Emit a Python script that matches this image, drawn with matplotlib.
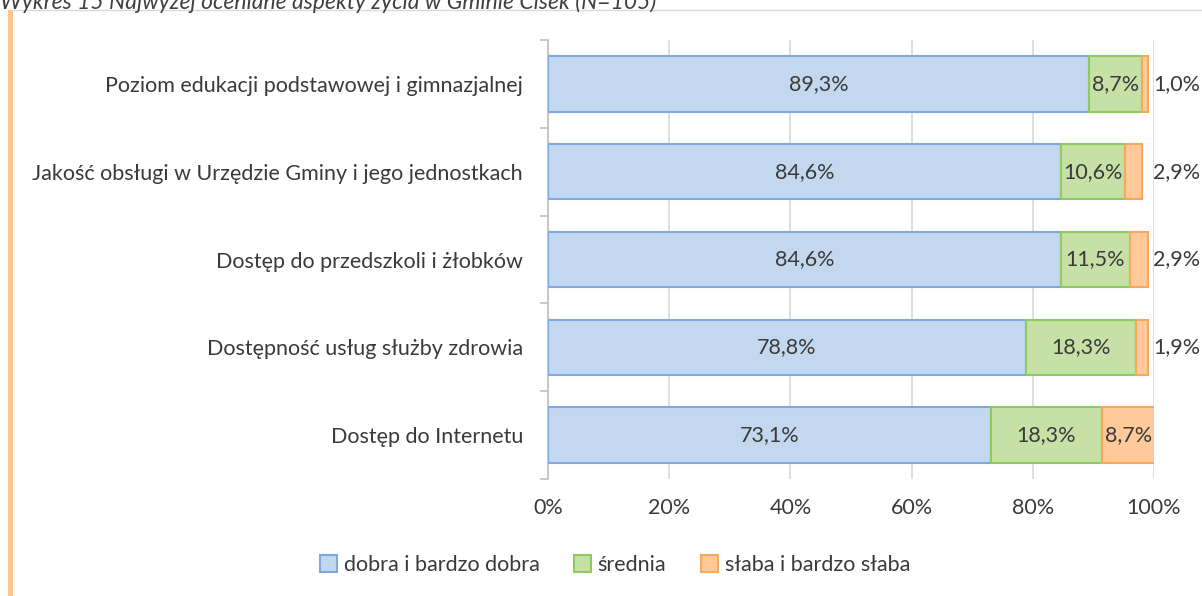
import numpy as np
import matplotlib.pyplot as plt

plt.rcParams['font.family'] = ['Lato', 'DejaVu Sans']

categories = ['Poziom edukacji podstawowej i gimnazjalnej',
              'Jakość obsługi w Urzędzie Gminy i jego jednostkach',
              'Dostęp do przedszkoli i żłobków',
              'Dostępność usług służby zdrowia',
              'Dostęp do Internetu']
dobra = [89.3, 84.6, 84.6, 78.8, 73.1]
srednia = [8.7, 10.6, 11.5, 18.3, 18.3]
slaba = [1.0, 2.9, 2.9, 1.9, 8.7]
series_names = ['dobra i bardzo dobra', 'średnia', 'słaba i bardzo słaba']
xticks = [0, 20, 40, 60, 80, 100]

fills = ['#C3D8EE', '#C6E0A6', '#FFC99A']
edges = ['#7FA7E0', '#8CCB5C', '#F8AA5C']
txt = '#3A3A3A'
fs = 15.5

fig = plt.figure(figsize=(12.02, 5.96), dpi=100)
ax = fig.add_axes([548 / 1202, 1 - 479 / 596, 606 / 1202, 439 / 596])

y = np.arange(len(categories))
left = np.zeros(len(categories))
for vals, name, fc, ec in zip([dobra, srednia, slaba], series_names, fills, edges):
    vals = np.array(vals)
    ax.barh(y, vals, left=left, height=0.63, color=fc, edgecolor=ec,
            linewidth=1.5, label=name, zorder=3)
    for yi, l, v in zip(y, left, vals):
        if v >= 5:
            ax.text(l + v / 2, yi, f'{v:.1f}%'.replace('.', ','), ha='center',
                    va='center', fontsize=fs, color=txt, zorder=4)
        else:
            ax.text(103.8, yi, f'{v:.1f}%'.replace('.', ','), ha='center',
                    va='center', fontsize=fs, color=txt, zorder=4, clip_on=False)
    left += vals

ax.set_xlim(0, 100)
ax.set_ylim(len(categories) - 0.5, -0.5)
ax.set_yticks(y)
ax.set_yticklabels(categories, fontsize=fs, color=txt)
ax.set_yticks(np.arange(-0.5, len(categories)), minor=True)
ax.tick_params(axis='y', which='major', length=0, pad=18)
ax.tick_params(axis='y', which='minor', length=6, color='#BFBFBF', width=1.2)
ax.set_xticks(xticks)
ax.set_xticklabels([f'{t}%' for t in xticks], fontsize=fs, color=txt)
ax.tick_params(axis='x', length=0, pad=14)
ax.grid(axis='x', color='#D9D9D9', linewidth=1.2, zorder=0)
for s in ['top', 'right', 'bottom']:
    ax.spines[s].set_visible(False)
ax.spines['left'].set_color('#BFBFBF')
ax.spines['left'].set_linewidth(1.2)

leg = fig.legend(loc='center', bbox_to_anchor=(615 / 1202, 1 - 565 / 596), ncol=3,
                 frameon=False, fontsize=fs, handlelength=0.8, handleheight=0.8,
                 handletextpad=0.3, columnspacing=1.6)
for t in leg.get_texts():
    t.set_color(txt)

# clipped caption and frame decorations
fig.text(0, 1 - 2 / 596, 'Wykres 15 Najwyżej oceniane aspekty życia w Gminie Cisek (N=105)',
         fontsize=16.5, style='italic', color='#404040', va='center', ha='left')
fig.add_artist(plt.Line2D([14 / 1202, 1], [1 - 10 / 596] * 2, color='#D9D9D9', linewidth=1))
fig.add_artist(plt.Rectangle((8 / 1202, 0), 5 / 1202, 1 - 10 / 596, color='#FFC58F', lw=0))

fig.savefig('out.png', dpi=100)
